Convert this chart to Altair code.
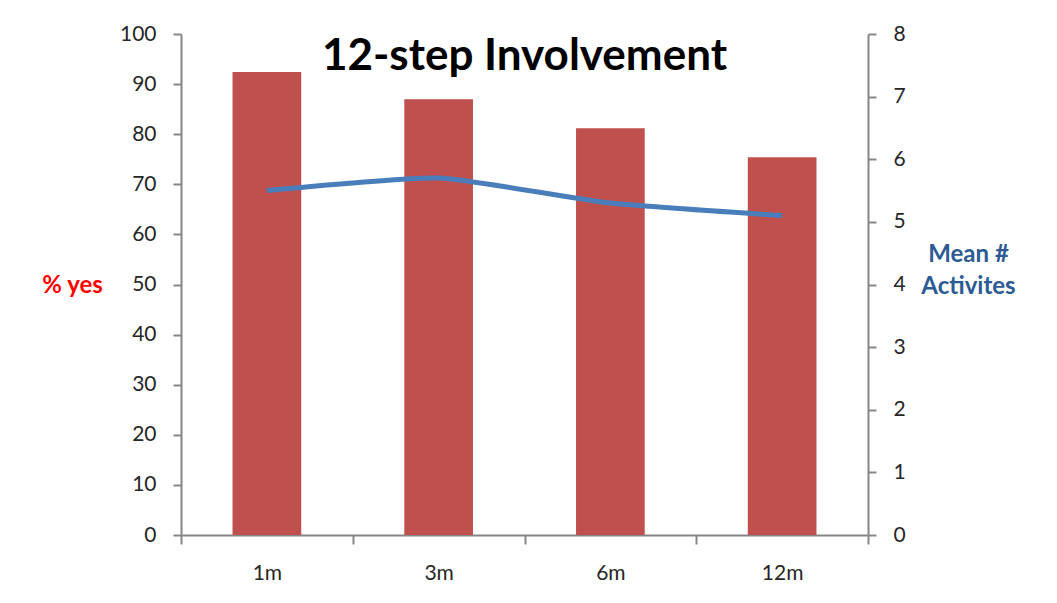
import altair as alt
import pandas as pd

periods = ["1m", "3m", "6m", "12m"]
pct_yes = [92.4, 87.0, 81.2, 75.4]
mean_activities = [5.5, 5.7, 5.3, 5.1]

df = pd.DataFrame({"period": periods, "pct": pct_yes, "mean": mean_activities})

FONT = "Lato"
AXIS_GRAY = "#868686"
LABEL_COLOR = "#262626"

x_enc = alt.X(
    "period:N",
    sort=periods,
    scale=alt.Scale(paddingInner=0, paddingOuter=0),
    axis=alt.Axis(
        title=None,
        labelAngle=0,
        tickBand="extent",
        tickSize=9,
        tickColor=AXIS_GRAY,
        domainColor=AXIS_GRAY,
        domainWidth=2,
        tickWidth=2,
        labelPadding=18,
        labelFontSize=21,
        labelFont=FONT,
        labelColor=LABEL_COLOR,
    ),
)

bars = alt.Chart(df).mark_bar(
    color="#C0504D", width=alt.RelativeBandSize(0.4)
).encode(
    x=x_enc,
    y=alt.Y(
        "pct:Q",
        scale=alt.Scale(domain=[0, 100], nice=False),
        axis=alt.Axis(
            title="% yes",
            titleAngle=0,
            titleX=-109,
            titleY=251,
            titleAlign="center",
            titleBaseline="middle",
            titleColor="#FF0000",
            titleFont=FONT,
            titleFontSize=24,
            titleFontWeight="bold",
            values=list(range(0, 101, 10)),
            grid=False,
            tickSize=8,
            tickColor=AXIS_GRAY,
            domainColor=AXIS_GRAY,
            domainWidth=2,
            tickWidth=2,
            labelPadding=17,
            labelFontSize=21,
            labelFont=FONT,
            labelColor=LABEL_COLOR,
        ),
    ),
)

line = alt.Chart(df).mark_line(
    color="#4A7EBB", strokeWidth=5, interpolate="cardinal", tension=0.5
).encode(
    x=alt.X("period:N", sort=periods),
    y=alt.Y(
        "mean:Q",
        scale=alt.Scale(domain=[0, 8], nice=False),
        axis=alt.Axis(
            orient="right",
            title=["Mean #", "Activites"],
            titleAngle=0,
            titleX=100,
            titleY=220,
            titleAlign="center",
            titleBaseline="middle",
            titleLineHeight=32,
            titleColor="#2C5A94",
            titleFont=FONT,
            titleFontSize=24,
            titleFontWeight="bold",
            values=list(range(0, 9)),
            grid=False,
            tickSize=8,
            tickColor=AXIS_GRAY,
            domainColor=AXIS_GRAY,
            domainWidth=2,
            tickWidth=2,
            labelPadding=17,
            labelFontSize=21,
            labelFont=FONT,
            labelColor=LABEL_COLOR,
        ),
    ),
)

chart = (
    alt.layer(bars, line)
    .resolve_scale(y="independent")
    .properties(
        width=687,
        height=501,
        autosize=alt.AutoSizeParams(type="none"),
        padding={"left": 173, "top": 26, "right": 170, "bottom": 50},
        background="white",
        title=alt.TitleParams(
            text="12-step Involvement",
            font=FONT,
            fontSize=44,
            fontWeight="bold",
            color="#000000",
            anchor="middle",
            frame="group",
            baseline="alphabetic",
            offset=0,
            dy=91,
        ),
    )
    .configure_view(stroke=None)
)

chart.save("out.html", embed_options={"renderer": "svg", "actions": False})
